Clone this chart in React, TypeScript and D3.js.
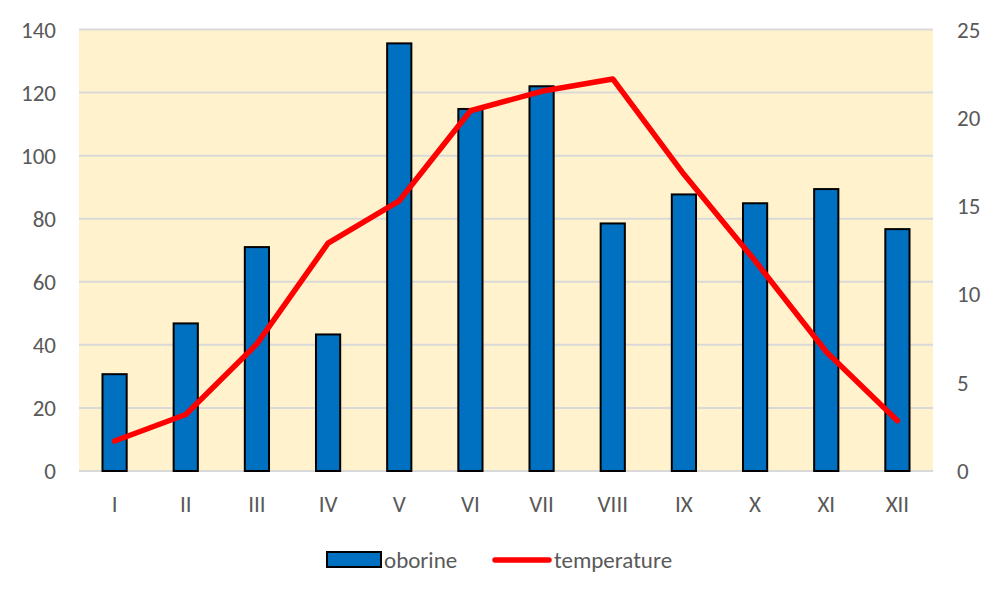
import React from "react";
import * as d3 from "d3";

const months = ["I", "II", "III", "IV", "V", "VI", "VII", "VIII", "IX", "X", "XI", "XII"];
const oborine = [30.7, 46.8, 71, 43.3, 135.6, 114.8, 122, 78.5, 87.7, 84.9, 89.4, 76.7];
const temperature = [1.7, 3.2, 7.2, 12.9, 15.3, 20.4, 21.5, 22.2, 16.8, 11.9, 6.75, 2.85];
const leftTicks = [0, 20, 40, 60, 80, 100, 120, 140];
const rightTicks = [0, 5, 10, 15, 20, 25];

export default function App() {
  const W = 1000, H = 599;
  const L = 79, R = 933, T = 29.5, B = 471;
  const x = d3.scaleBand<string>().domain(months).range([L, R]).paddingInner(0.66).paddingOuter(0.33);
  const yL = d3.scaleLinear().domain([0, 140]).range([B, T]);
  const yR = d3.scaleLinear().domain([0, 25]).range([B, T]);
  const line = d3.line<number>()
    .x((_, i) => (x(months[i]) as number) + x.bandwidth() / 2)
    .y((d) => yR(d));
  const font = "Carlito, Lato, 'Open Sans', sans-serif";
  const textColor = "#595959";
  const fs = 23;
  return (
    <svg width={W} height={H} style={{ position: "absolute", left: 0, top: 0 }} fontFamily={font}>
      <rect x={0} y={0} width={W} height={H} fill="#fff" />
      <rect x={L} y={T} width={R - L} height={B - T} fill="#FFF2CC" />
      {leftTicks.map((t) => (
        <line key={t} x1={L} x2={R} y1={yL(t)} y2={yL(t)} stroke="#D9D9D9" strokeWidth={2} />
      ))}
      {leftTicks.map((t) => (
        <text key={t} x={56} y={yL(t)} dy="0.35em" textAnchor="end" fontSize={fs} fill={textColor}>{t}</text>
      ))}
      {rightTicks.map((t) => (
        <text key={t} x={957} y={yR(t)} dy="0.35em" textAnchor="start" fontSize={fs} fill={textColor}>{t}</text>
      ))}
      {oborine.map((v, i) => (
        <rect key={i} x={x(months[i])} y={yL(v)} width={x.bandwidth()} height={B - yL(v)}
          fill="#0070C0" stroke="#000" strokeWidth={2} />
      ))}
      {months.map((m) => (
        <text key={m} x={(x(m) as number) + x.bandwidth() / 2} y={504} dy="0.35em" textAnchor="middle" fontSize={fs} fill={textColor}>{m}</text>
      ))}
      <path d={line(temperature) || ""} fill="none" stroke="#FF0000" strokeWidth={5.5} strokeLinejoin="round" strokeLinecap="round" />
      <rect x={327} y={552} width={54} height={15} fill="#0070C0" stroke="#000" strokeWidth={2} />
      <text x={384} y={560} dy="0.35em" fontSize={fs} fill={textColor}>oborine</text>
      <line x1={495} x2={549} y1={560} y2={560} stroke="#FF0000" strokeWidth={5.5} strokeLinecap="round" />
      <text x={554} y={560} dy="0.35em" fontSize={fs} fill={textColor}>temperature</text>
    </svg>
  );
}
